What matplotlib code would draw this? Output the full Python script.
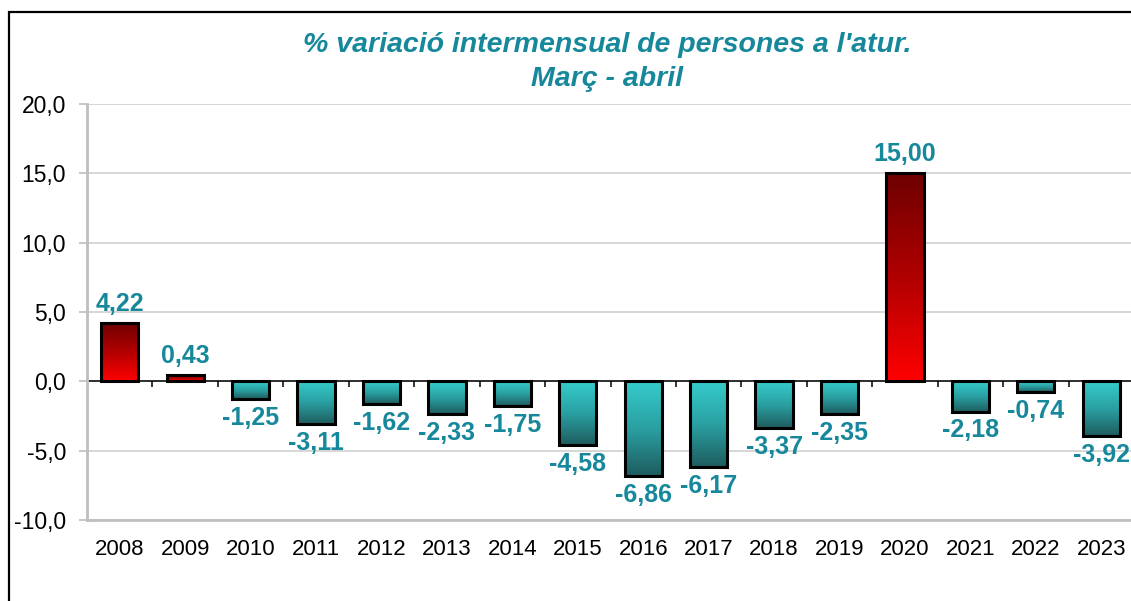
import numpy as np
import matplotlib
matplotlib.use("Agg")
import matplotlib.pyplot as plt
from matplotlib.colors import LinearSegmentedColormap
from matplotlib.patches import Rectangle

plt.rcParams['font.family'] = ['Liberation Sans', 'DejaVu Sans']

years = ["2008", "2009", "2010", "2011", "2012", "2013", "2014", "2015",
         "2016", "2017", "2018", "2019", "2020", "2021", "2022", "2023"]
values = [4.22, 0.43, -1.25, -3.11, -1.62, -2.33, -1.75, -4.58,
          -6.86, -6.17, -3.37, -2.35, 15.00, -2.18, -0.74, -3.92]
title_lines = ["% variació intermensual de persones a l'atur.", "Març - abril"]

teal = "#17889b"
red_map = LinearSegmentedColormap.from_list("reds", ["#ff0000", "#b00000", "#6e0000"])
teal_map = LinearSegmentedColormap.from_list("teals", ["#1e5c5e", "#2aa0a2", "#36cccc"])

fig = plt.figure(figsize=(11.31, 6.01), dpi=100)
fig.patches.append(Rectangle((9 / 1131, -0.1), 1.2, 1.1 - 12 / 601, transform=fig.transFigure,
                             fill=False, edgecolor="black", linewidth=1.6))

ax = fig.add_axes([87 / 1131, 81 / 601, (1134 - 87) / 1131, 416 / 601])

x = np.arange(len(years))
width = 0.57
bars = ax.bar(x, values, width=width, facecolor="none", edgecolor="black",
              linewidth=2.2, zorder=4)

grad = np.linspace(0, 1, 256).reshape(-1, 1)
for b, v in zip(bars, values):
    x0, y0 = b.get_x(), b.get_y()
    x1, y1 = x0 + b.get_width(), y0 + b.get_height()
    cmap = red_map if v > 0 else teal_map
    ax.imshow(grad, cmap=cmap, extent=[x0, x1, min(y0, y1), max(y0, y1)],
              origin="lower", aspect="auto", zorder=3)
    label = f"{v:.2f}".replace(".", ",")
    xc = b.get_x() + b.get_width() / 2
    if v > 0:
        ax.text(xc, v + 0.5, label, ha="center", va="bottom", color=teal,
                fontsize=18, fontweight="bold", zorder=5)
    else:
        ax.text(xc, v - 0.5, label, ha="center", va="top", color=teal,
                fontsize=18, fontweight="bold", zorder=5)

ax.set_xlim(-0.5, len(years) - 0.5)
ax.set_ylim(-10, 20)
yt = np.arange(-10, 21, 5)
ax.set_yticks(yt)
ax.set_yticklabels([f"{t:.1f}".replace(".", ",") for t in yt], fontsize=16.5)
ax.set_xticks(x)
ax.set_xticklabels(years, fontsize=16)
ax.tick_params(axis="x", length=0, pad=14)
ax.tick_params(axis="y", length=6, color="#bfbfbf", width=1.2, pad=9)
ax.grid(axis="y", color="#d0d0d0", linewidth=1.2, zorder=0)
ax.set_axisbelow(True)

for side in ["top", "right"]:
    ax.spines[side].set_visible(False)
for side in ["left", "bottom"]:
    ax.spines[side].set_color("#bfbfbf")
    ax.spines[side].set_linewidth(2)

# zero line with small tick marks between categories
ax.axhline(0, color="black", linewidth=1.1, zorder=2)
ax.vlines(np.arange(-0.5, len(years)), -0.4, 0, color="black", linewidth=1.1, zorder=2)

fig.text(0.537, 0.925, title_lines[0], ha="center", va="center", color=teal,
         fontsize=20.5, fontweight="bold", fontstyle="italic")
fig.text(0.537, 0.869, title_lines[1], ha="center", va="center", color=teal,
         fontsize=20.5, fontweight="bold", fontstyle="italic")

fig.savefig("out.png", dpi=100)
